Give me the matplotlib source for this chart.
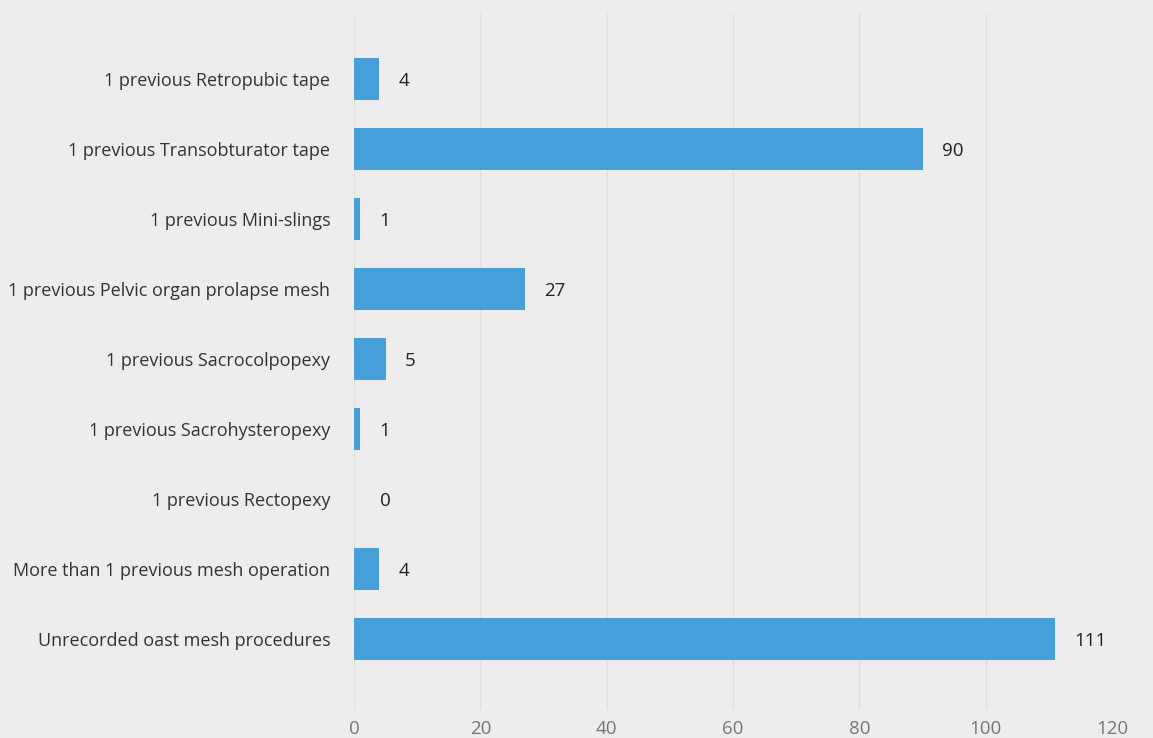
import matplotlib.pyplot as plt

categories = [
    "1 previous Retropubic tape",
    "1 previous Transobturator tape",
    "1 previous Mini-slings",
    "1 previous Pelvic organ prolapse mesh",
    "1 previous Sacrocolpopexy",
    "1 previous Sacrohysteropexy",
    "1 previous Rectopexy",
    "More than 1 previous mesh operation",
    "Unrecorded oast mesh procedures",
]
counts = [4, 90, 1, 27, 5, 1, 0, 4, 111]
x_ticks = [0, 20, 40, 60, 80, 100, 120]

plt.rcParams["font.family"] = ["Open Sans", "DejaVu Sans"]

bg = "#ededed"
fig = plt.figure(figsize=(11.53, 7.38), dpi=100, facecolor=bg)
ax = fig.add_axes([354 / 1153, 28 / 738, 758 / 1153, 696 / 738], facecolor=bg)

ypos = list(range(len(categories)))
ax.barh(ypos, counts, height=0.6, color="#48a0da", zorder=3)

for y, v in zip(ypos, counts):
    ax.annotate(str(v), xy=(max(v, 1), y), xytext=(14, -1), textcoords="offset points",
                va="center", ha="left", fontsize=13.5, color="#222222", zorder=4)

ax.set_xlim(0, 120)
ax.set_ylim(len(categories) - 1 + 1.01, -0.93)
ax.set_xticks(x_ticks)
ax.set_xticklabels([str(t) for t in x_ticks])
ax.set_yticks(ypos)
ax.set_yticklabels(categories)

ax.grid(axis="x", color="#dedfd5", linewidth=1.0, zorder=0)
ax.tick_params(axis="y", length=0, pad=17, labelsize=13, labelcolor="#333333")
ax.tick_params(axis="x", length=0, pad=7, labelsize=13.5, labelcolor="#777777")
for side in ax.spines.values():
    side.set_visible(False)

fig.savefig("out.png", dpi=100, facecolor=bg)
